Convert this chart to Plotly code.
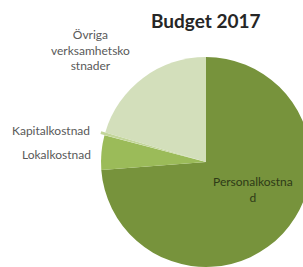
import plotly.graph_objects as go

categories = ["Personalkostnad", "Lokalkostnad", "Kapitalkostnad", "Övriga verksamhetskostnader"]
values = [73.8, 5.3, 0.45, 20.45]
colors = ["#77933C", "#9BBB59", "#C3D69B", "#D3DFBB"]
title_text = "Budget 2017"

W, H = 318, 274
cx, cy, r = 206, 162, 105
pull_k = 0.04
R = r * (1 + pull_k)

fig = go.Figure(go.Pie(
    labels=categories,
    values=values,
    sort=False,
    direction="clockwise",
    rotation=0,
    pull=[0, 0, pull_k, 0],
    marker=dict(colors=colors, line=dict(width=0)),
    textinfo="none",
    hoverinfo="label+percent",
    showlegend=False,
    domain=dict(x=[(cx - R) / W, (cx + R) / W], y=[(H - cy - R) / H, (H - cy + R) / H]),
))

fam = "Lato, Open Sans, sans-serif"
font_lbl = dict(family=fam, size=12, color="#595959")
anns = [
    dict(text=title_text, x=206 / W, y=1 - 21 / H, font=dict(family=fam, size=19, color="#262626", weight="bold")),
    dict(text="Övriga<br>verksamhetsko<br>stnader", x=90 / W, y=1 - 50 / H, font=font_lbl),
    dict(text=categories[2], x=92 / W, y=1 - 130 / H, font=font_lbl, xanchor="right"),
    dict(text=categories[1], x=93 / W, y=1 - 154 / H, font=font_lbl, xanchor="right"),
    dict(text="Personalkostna<br>d", x=253 / W, y=1 - 189 / H, font=dict(family=fam, size=12, color="#2E3A17")),
]
for a in anns:
    a.setdefault("xanchor", "center")
    a["yanchor"] = "middle"
    a["xref"] = "paper"
    a["yref"] = "paper"
    a["showarrow"] = False
fig.update_layout(
    width=W, height=H,
    margin=dict(l=0, r=0, t=0, b=0),
    paper_bgcolor="white",
    plot_bgcolor="white",
    annotations=anns,
)

fig.write_html(
    "out.html",
    config={"displayModeBar": False},
    post_script="document.body.style.margin='0';document.body.style.overflow='hidden';document.documentElement.style.overflow='hidden';",
)
